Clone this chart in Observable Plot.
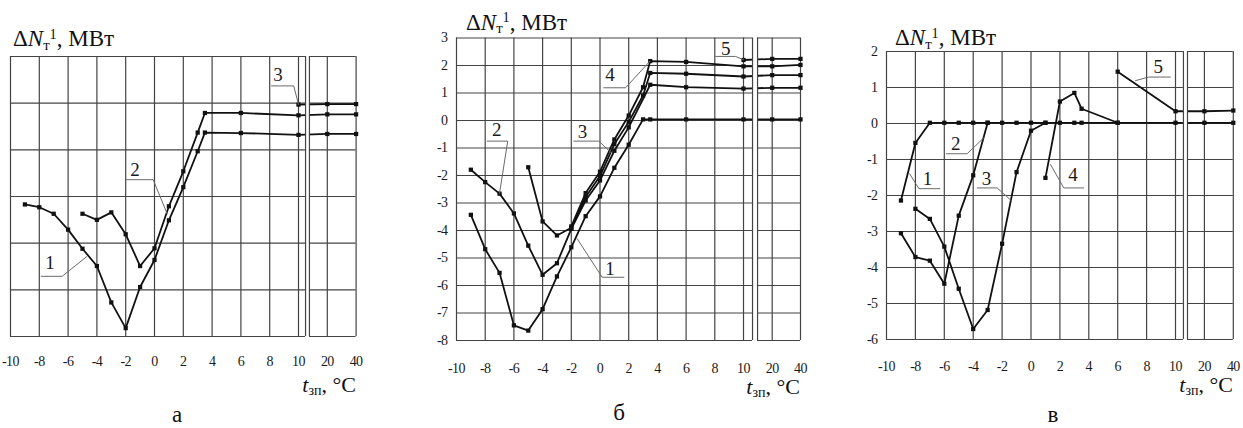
<!DOCTYPE html>
<html><head><meta charset="utf-8">
<script src="https://cdn.jsdelivr.net/npm/d3@7"></script>
<script src="https://cdn.jsdelivr.net/npm/@observablehq/plot@0.6"></script>
<style>
body{margin:0;background:#fff;}
#wrap{position:relative;width:1243px;height:428px;overflow:hidden;font-family:"Liberation Serif","DejaVu Serif",serif;color:#111;}
#wrap svg{position:absolute;left:0;top:0;}
.ttl{position:absolute;white-space:nowrap;line-height:1;z-index:5;}
.ty{font-size:23px;}
.tx{font-size:22px;}
.sub{font-size:0.64em;position:relative;top:0.22em;}
.sup{font-size:0.62em;position:relative;top:-0.55em;}
.pl{position:absolute;line-height:1;font-size:23px;z-index:5;transform:translateX(-50%);}
</style></head><body><div id="wrap"></div>
<script>
// ---- tick labels (temperature, °C) ----
const tempTicksMain = [-10, -8, -6, -4, -2, 0, 2, 4, 6, 8, 10];
const tempTicksExtra = [20, 40];
// ---- value grids ----
const gridA = [-3, -2, -1, 0, 1, 2, 3];
const gridB = [-8, -7, -6, -5, -4, -3, -2, -1, 0, 1, 2, 3];
const gridC = [-6, -5, -4, -3, -2, -1, 0, 1, 2];

// ---- panel а : [t, ΔN] ----
const a1 = [[-9,-0.17],[-8,-0.23],[-7,-0.37],[-6,-0.71],[-5,-1.12],[-4,-1.49],[-3,-2.27],[-2,-2.82],[-1,-1.94],[0,-1.36],[1,-0.51],[2,0.2],[3,0.97],[3.5,1.37],[6,1.36],[10,1.32],[20,1.34],[40,1.34]];
const a2 = [[-5,-0.37],[-4,-0.5],[-3,-0.34],[-2,-0.81],[-1,-1.49],[0,-1.11],[1,-0.21],[2,0.54],[3,1.37],[3.5,1.79],[6,1.79],[10,1.74],[20,1.76],[40,1.76]];
const a3 = [[10,1.97],[20,1.98],[40,1.98]];

// ---- panel б ----
const b1 = [[-9,-3.43],[-8,-4.68],[-7,-5.54],[-6,-7.45],[-5,-7.64],[-4,-6.86],[-3,-5.67],[-2,-4.61],[-1,-3.48],[0,-2.76],[1,-1.72],[2,-0.88],[3,0.04],[3.5,0.04],[6,0.04],[10,0.04],[20,0.04],[40,0.04]];
const b2 = [[-9,-1.79],[-8,-2.24],[-7,-2.66],[-6,-3.38],[-5,-4.55],[-4,-5.61],[-3,-5.19],[-2,-3.94],[-1,-2.91],[0,-2.18],[1,-1.1],[2,-0.25],[3.5,1.3],[6,1.21],[10,1.16],[20,1.19],[40,1.19]];
const b3 = [[-5,-1.7],[-4,-3.67],[-3,-4.18],[-2,-3.9],[-1,-2.78],[0,-2.02],[1,-0.86],[2,-0.05],[3,0.91],[3.5,1.73],[6,1.7],[10,1.6],[20,1.65],[40,1.65]];
const b4 = [[-2,-3.85],[-1,-2.64],[0,-1.86],[1,-0.69],[2,0.18],[3,1.21],[3.5,2.16],[6,2.13],[10,1.97],[20,1.97],[40,2.02]];
const b5 = [[10,2.2],[20,2.24],[40,2.24]];

// ---- panel в ----
const c1 = [[-9,-2.14],[-8,-0.54],[-7,0.02],[-6,0.02],[-5,0.02],[-4,0.02],[-3,0.02],[-2,0.02],[-1,0.02],[0,0.02],[1,0.02],[2,0.02],[3,0.02],[3.5,0.02],[6,0.02],[10,0.02],[20,0.02],[40,0.02]];
const c2 = [[-9,-3.05],[-8,-3.71],[-7,-3.81],[-6,-4.45],[-5,-2.56],[-4,-1.44],[-3,0.02]];
const c3 = [[-8,-2.37],[-7,-2.65],[-6,-3.42],[-5,-4.59],[-4,-5.71],[-3,-5.18],[-2,-3.34],[-1,-1.35],[0,-0.2],[1,0.02]];
const c4 = [[1,-1.51],[2,0.61],[3,0.85],[3.5,0.41],[6,0.02]];
const c5 = [[6,1.44],[10,0.34],[20,0.34],[40,0.36]];

// ---- curve labels (number, anchor, leader polyline) in data units ----
const labelsA = [
  {n:"1", t:-7.27, v:-1.43, leader:[[-7.87,-1.71],[-6.41,-1.71],[-4.72,-1.29]]},
  {n:"2", t:-1.37, v:0.57, leader:[[-1.94,0.36],[-0.09,0.36],[0.88,-0.37]]},
  {n:"3", t:8.56, v:2.61, leader:[[8.13,2.37],[9.67,2.37],[10,1.97]]}
];
const labelsB = [
  {n:"1", t:0.68, v:-5.39, leader:[[1.66,-5.7],[0.15,-5.7],[-1.59,-4.3]]},
  {n:"2", t:-7.21, v:-0.36, leader:[[-7.86,-0.75],[-6.43,-0.75],[-7.0,-2.64]]},
  {n:"3", t:-1.24, v:-0.4, leader:[[-1.83,-0.75],[-0.08,-0.75],[0.73,-1.15]]},
  {n:"4", t:0.68, v:1.64, leader:[[0.26,1.19],[1.78,1.19],[3.47,2.15]]},
  {n:"5", t:8.75, v:2.61, leader:[[8.05,2.33],[9.44,2.33],[10,2.21]]}
];
const labelsC = [
  {n:"1", t:-7.18, v:-1.54, leader:[[-6.31,-1.81],[-7.76,-1.81],[-8.39,-1.4]]},
  {n:"2", t:-5.22, v:-0.56, leader:[[-5.85,-0.84],[-4.42,-0.84],[-3.27,-0.4]]},
  {n:"3", t:-3.1, v:-1.54, leader:[[-3.72,-1.79],[-2.34,-1.79],[-1.37,-2.14]]},
  {n:"4", t:2.89, v:-1.44, leader:[[3.65,-1.79],[2.27,-1.79],[1.35,-1.14]]},
  {n:"5", t:8.78, v:1.56, leader:[[9.65,1.29],[8.15,1.29],[7.23,1.19]]}
];

const GRID = "#444";
const FONT = '"Liberation Serif","DejaVu Serif",serif';
const fmt = d => String(d);

const panels = [
  {xr:[10,298,326.8,355.6], yd:[-3,3], yr:[336,56], grid:gridA, showY:false, series:[a1,a2,a3], brk:[12.45,13.8], labels:labelsA, xdy:25.5},
  {xr:[456,743,771.7,800], yd:[-8,3], yr:[340,37.5], grid:gridB, showY:true, series:[b1,b2,b3,b4,b5], brk:[13.15,14.9], labels:labelsB, xdy:28},
  {xr:[886,1175,1203.9,1232.8], yd:[-6,2], yr:[339,51], grid:gridC, showY:true, series:[c1,c2,c3,c4,c5], brk:[12.75,14.15], labels:labelsC, xdy:27}
];

const wrap = document.getElementById("wrap");
panels.forEach(p => {
  const rows = [];
  p.series.forEach((pts, i) => pts.forEach(([t, v]) => rows.push({s: i, t, v})));
  const leaderRows = [];
  p.labels.forEach((L, i) => L.leader.forEach(([t, v]) => leaderRows.push({id: i, t, v})));
  const [yMin, yMax] = p.yd;
  const allTicks = [...tempTicksMain, ...tempTicksExtra];
  const svg = Plot.plot({
    width: 1243, height: 428, margin: 0,
    x: {type: "linear", domain: [-10, 10, 20, 40], range: p.xr, axis: null},
    y: {domain: p.yd, range: p.yr, axis: null},
    style: {background: "transparent", overflow: "visible", fontFamily: FONT, letterSpacing: "-0.6px"},
    marks: [
      Plot.ruleY(p.grid, {x1: -10, x2: p.brk[0], stroke: GRID, strokeWidth: 1.2}),
      Plot.ruleY(p.grid, {x1: p.brk[1], x2: 40, stroke: GRID, strokeWidth: 1.2}),
      Plot.ruleX(allTicks, {y1: yMin, y2: yMax, stroke: GRID, strokeWidth: 1.2}),
      Plot.line(rows, {x: "t", y: "v", z: "s", stroke: "#111", strokeWidth: 1.8}),
      Plot.rect([p.brk], {x1: d => d[0], x2: d => d[1], y1: yMin, y2: yMax, fill: "white"}),
      Plot.ruleX(p.brk, {y1: yMin, y2: yMax, stroke: GRID, strokeWidth: 1.2}),
      Plot.dot(rows, {x: "t", y: "v", symbol: "square", r: 2.4, fill: "#111"}),
      Plot.line(leaderRows, {x: "t", y: "v", z: "id", stroke: "#6a6a6a", strokeWidth: 1}),
      Plot.text(p.labels, {x: "t", y: "v", text: "n", fontSize: 19, fontFamily: FONT, fill: "#1a1a1a"}),
      Plot.text(allTicks, {x: d => d, y: yMin, dy: p.xdy, text: fmt, fontSize: 14, fontFamily: FONT, fill: "#1a1a1a"}),
      p.showY ? Plot.text(p.grid, {x: -10, y: d => d, dx: -9, textAnchor: "end", text: fmt, fontSize: 14, fontFamily: FONT, fill: "#1a1a1a"}) : null
    ]
  });
  wrap.appendChild(svg);
});

// titles (rich text)
const yTitle = 'Δ<i>N</i><span class="sub">т</span><span class="sup">1</span>, МВт';
const xTitle = '<i>t</i><span class="sub">зп</span>, °C';
const titles = [
  {html: yTitle, cls: "ty", left: 13, top: 27.4},
  {html: yTitle, cls: "ty", left: 466, top: 10.7},
  {html: yTitle, cls: "ty", left: 895, top: 26.4},
  {html: xTitle, cls: "tx", right: 1243 - 356, top: 373.6},
  {html: xTitle, cls: "tx", right: 1243 - 800, top: 375.6},
  {html: xTitle, cls: "tx", right: 1243 - 1233, top: 374.3}
];
titles.forEach(o => {
  const d = document.createElement("div");
  d.className = "ttl " + o.cls;
  d.innerHTML = o.html;
  d.style.top = o.top + "px";
  if (o.left !== undefined) d.style.left = o.left + "px"; else d.style.right = o.right + "px";
  wrap.appendChild(d);
});
const panelLetters = [{s: "а", x: 177, top: 403}, {s: "б", x: 619, top: 401}, {s: "в", x: 1053, top: 403}];
panelLetters.forEach(o => {
  const d = document.createElement("div");
  d.className = "pl";
  d.textContent = o.s;
  d.style.left = o.x + "px";
  d.style.top = o.top + "px";
  wrap.appendChild(d);
});
</script></body></html>
